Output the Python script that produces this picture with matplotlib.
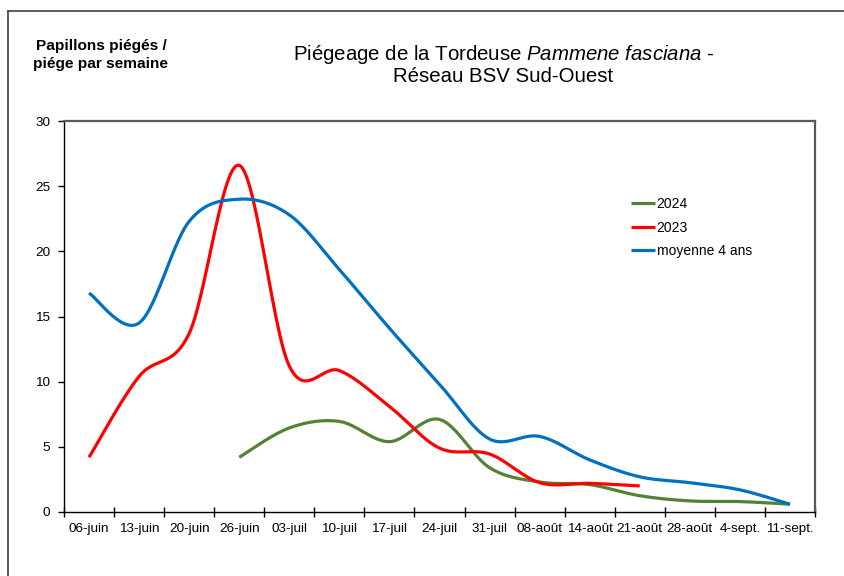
#!/usr/bin/env python3
"""Piégeage Pammene fasciana - BSV Sud-Ouest, courbes lissées façon Excel."""

import matplotlib
matplotlib.use("Agg")
import matplotlib.pyplot as plt
from matplotlib.lines import Line2D
import numpy as np

plt.rcParams["font.family"] = ["Liberation Sans", "DejaVu Sans"]
plt.rcParams["mathtext.fontset"] = "custom"
plt.rcParams["mathtext.rm"] = "Liberation Sans"
plt.rcParams["mathtext.it"] = "Liberation Sans:italic"

# --- data ---
semaines = ["06-juin", "13-juin", "20-juin", "26-juin", "03-juil", "10-juil",
            "17-juil", "24-juil", "31-juil", "08-août", "14-août", "21-août",
            "28-août", "4-sept.", "11-sept."]
moyenne_4_ans = [16.8, 14.5, 22.3, 24.0, 22.8, 18.6, 14.1, 9.8, 5.6, 5.8,
                 4.0, 2.7, 2.25, 1.7, 0.6]
serie_2023 = [4.2, 10.4, 13.7, 26.6, 11.2, 10.85, 8.1, 4.9, 4.45, 2.25,
              2.2, 2.0, None, None, None]
serie_2024 = [None, None, None, 4.2, 6.45, 6.95, 5.4, 7.1, 3.4, 2.3,
              2.1, 1.25, 0.85, 0.8, 0.6]

COL_2024 = "#548235"
COL_2023 = "#FF0000"
COL_MOY = "#0070C0"


def smooth(xs, ys, n=30):
    """Catmull-Rom -> cubic Bezier, the way Excel draws 'smoothed line'."""
    pts = [(x, y) for x, y in zip(xs, ys) if y is not None]
    px = np.array([p[0] for p in pts], dtype=float)
    py = np.array([p[1] for p in pts], dtype=float)
    out_x, out_y = [], []
    t = np.linspace(0.0, 1.0, n)
    for i in range(len(px) - 1):
        i0 = max(i - 1, 0)
        i3 = min(i + 2, len(px) - 1)
        p0 = np.array([px[i], py[i]])
        p3 = np.array([px[i + 1], py[i + 1]])
        c1 = p0 + (p3 - np.array([px[i0], py[i0]])) / 6.0
        c2 = p3 - (np.array([px[i3], py[i3]]) - p0) / 6.0
        b = ((1 - t) ** 3)[:, None] * p0 + (3 * (1 - t) ** 2 * t)[:, None] * c1 \
            + (3 * (1 - t) * t ** 2)[:, None] * c2 + (t ** 3)[:, None] * p3
        out_x.extend(b[:, 0])
        out_y.extend(b[:, 1])
    return out_x, out_y


fig = plt.figure(figsize=(8.45, 5.76), dpi=100)
ax = fig.add_axes([64 / 845, 1 - 512 / 576, (815 - 64) / 845, (512 - 121) / 576])

x = np.arange(len(semaines))
for serie, col, lab in [(serie_2024, COL_2024, "2024"),
                        (serie_2023, COL_2023, "2023"),
                        (moyenne_4_ans, COL_MOY, "moyenne 4 ans")]:
    sx, sy = smooth(x, serie)
    ax.plot(sx, sy, color=col, lw=2.3, label=lab, solid_capstyle="butt")

ax.set_xlim(-0.5, len(semaines) - 0.5)
ax.set_ylim(0, 30)
ax.set_yticks(range(0, 31, 5))
ax.set_xticks(x)
ax.set_xticklabels(semaines)
ax.set_xticks(np.arange(len(semaines) + 1) - 0.5, minor=True)
ax.tick_params(axis="x", which="major", length=0, pad=8, labelsize=9.7)
ax.tick_params(axis="x", which="minor", direction="inout", length=7, width=1)
ax.tick_params(axis="y", direction="out", length=4, width=1, pad=6, labelsize=9.7)

for side in ("left", "bottom"):
    ax.spines[side].set_color("black")
    ax.spines[side].set_linewidth(1)
for side in ("top", "right"):
    ax.spines[side].set_color("#595959")
    ax.spines[side].set_linewidth(1.6)

ax.legend(loc="upper left", bbox_to_anchor=(0.755, 0.805), frameon=False,
          fontsize=10, handlelength=1.75, handletextpad=0.1, labelspacing=0.68,
          borderpad=0, borderaxespad=0)

# titles
fig.text(504 / 845, 1 - 54 / 576,
         r"Piégeage de la Tordeuse $\it{Pammene\ fasciana}$ -",
         ha="center", va="center", fontsize=14.7)
fig.text(503 / 845, 1 - 77 / 576, "Réseau BSV Sud-Ouest",
         ha="center", va="center", fontsize=14.7)
fig.text(101 / 845, 1 - 55 / 576, "Papillons piégés /\npiége par semaine",
         ha="center", va="center", fontsize=11.1, fontweight="bold",
         linespacing=1.32)

# outer frame (only left and top edges are visible in the crop)
fy = 1 - 11 / 576
fx = 8.5 / 845
fig.add_artist(Line2D([fx, fx], [0, fy], color="#404040", lw=1.2))
fig.add_artist(Line2D([fx, 1], [fy, fy], color="#404040", lw=1.2))

fig.savefig("out.png", dpi=100)
